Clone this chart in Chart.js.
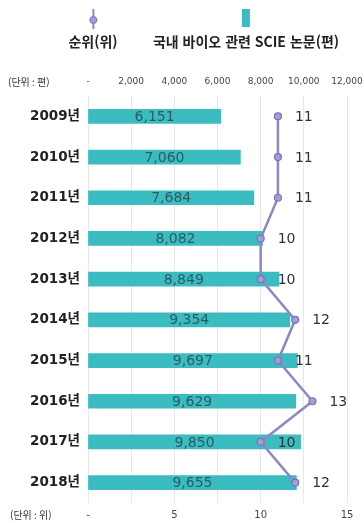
<!DOCTYPE html>
<html lang="ko">
<head>
  <meta charset="UTF-8" />
  <title>국내 바이오 관련 SCIE 논문 및 순위</title>
  <style>
    body { margin: 0; background: #fff; font-family: "Noto Sans CJK KR", sans-serif; }
    #wrap { position: relative; width: 364px; height: 523px; }
    #legend { position: absolute; top: 0; left: 0; width: 364px; height: 60px; }
    .item { position: absolute; top: 5px; text-align: center; font-weight: 700; font-size: 14px; color: #222; transform: translateX(-50%); white-space: nowrap; }
    .icon { position: relative; height: 22px; margin: 0 auto 4px; }
    .icon.line { width: 10px; }
    .icon.line::before { content: ""; position: absolute; left: 4px; top: 4px; width: 2px; height: 20px; background: #8e86c6; }
    .icon.line::after { content: ""; position: absolute; left: 1px; top: 11px; width: 6px; height: 6px; border-radius: 50%; background: #a59dd6; border: 1px solid #7a71b8; }
    .icon.bar { width: 8px; height: 18px; margin-top: 4px; background: #3bbcc0; }
    canvas { position: absolute; top: 0; left: 0; }
  </style>
  <script src="https://cdn.jsdelivr.net/npm/chart.js"></script>
</head>
<body>
  <div id="wrap">
    <canvas id="chart" width="364" height="523"></canvas>
    <div id="legend">
      <div class="item" style="left:93px"><div class="icon line"></div>순위(위)</div>
      <div class="item" style="left:246px"><div class="icon bar"></div>국내 바이오 관련 SCIE 논문(편)</div>
    </div>
  </div>

  <script>
    // data
    const years = ['2009년', '2010년', '2011년', '2012년', '2013년', '2014년', '2015년', '2016년', '2017년', '2018년'];
    const papers = [6151, 7060, 7684, 8082, 8849, 9354, 9697, 9629, 9850, 9655];
    const ranks = [11, 11, 11, 10, 10, 12, 11, 13, 10, 12];
    const paperTicks = [0, 2000, 4000, 6000, 8000, 10000, 12000];
    const rankTicks = [0, 5, 10, 15];

    const BAR = '#3bbcc0';
    const LINE = '#8e86c6';
    const NUM_FONT = '"DejaVu Sans", sans-serif';

    const fmt = v => v === 0 ? '-' : v.toLocaleString('en-US');

    // both value axes span the same plot width; keep their label overhang out of the layout
    const fitX = h => s => { s.height = h; s.paddingLeft = 0; s.paddingRight = 0; };

    // value labels on bars and next to rank points, plus unit captions
    const labelPlugin = {
      id: 'labels',
      afterDatasetsDraw(chart) {
        const ctx = chart.ctx;
        ctx.save();
        ctx.textBaseline = 'middle';

        const barMeta = chart.getDatasetMeta(1);
        ctx.font = '14px ' + NUM_FONT;
        ctx.fillStyle = '#2b5c62';
        ctx.textAlign = 'center';
        barMeta.data.forEach((el, i) => {
          ctx.fillText(fmt(papers[i]), (el.x + el.base) / 2, el.y + 1);
        });

        const lineMeta = chart.getDatasetMeta(0);
        ctx.font = '14px ' + NUM_FONT;
        ctx.fillStyle = '#333';
        ctx.textAlign = 'left';
        lineMeta.data.forEach((el, i) => {
          ctx.fillText(String(ranks[i]), el.x + 17, el.y + 1);
        });

        ctx.font = '10px "Noto Sans CJK KR", sans-serif';
        ctx.fillStyle = '#333';
        ctx.fillText('(단위 : 편)', 8, 82);
        ctx.fillText('(단위 : 위)', 10, 515);
        ctx.restore();
      }
    };

    new Chart(document.getElementById('chart'), {
      type: 'bar',
      data: {
        labels: years,
        datasets: [
          {
            type: 'line',
            label: '순위(위)',
            data: ranks,
            xAxisID: 'x2',
            borderColor: LINE,
            borderWidth: 2.5,
            pointRadius: 3.5,
            pointBackgroundColor: '#a59dd6',
            pointBorderColor: '#7a71b8',
            pointBorderWidth: 1.2,
            tension: 0,
            order: 0
          },
          {
            label: '국내 바이오 관련 SCIE 논문(편)',
            data: papers,
            xAxisID: 'x',
            backgroundColor: BAR,
            barThickness: 14,
            order: 1
          }
        ]
      },
      options: {
        indexAxis: 'y',
        responsive: false,
        animation: false,
        layout: { padding: { top: 66, right: 17, bottom: 0, left: 0 } },
        plugins: { legend: { display: false }, tooltip: { enabled: false } },
        scales: {
          x: {
            position: 'top',
            min: 0,
            max: 12000,
            afterBuildTicks: s => { s.ticks = paperTicks.map(v => ({ value: v })); },
            afterFit: fitX(30),
            grid: { color: '#e8e8e8', drawTicks: false },
            border: { display: false },
            ticks: { padding: 9, callback: v => fmt(v), color: '#444', font: { size: 9, family: NUM_FONT } }
          },
          x2: {
            position: 'bottom',
            min: 0,
            max: 15,
            afterBuildTicks: s => { s.ticks = rankTicks.map(v => ({ value: v })); },
            afterFit: fitX(20),
            grid: { display: false, drawTicks: false },
            border: { display: false },
            ticks: { padding: 6, callback: v => fmt(v), color: '#444', font: { size: 10, family: NUM_FONT } }
          },
          y: {
            afterFit: s => { s.width = 88; },
            grid: { display: false, drawTicks: false },
            border: { display: false },
            ticks: { padding: 8, color: '#222', font: { size: 13.5, weight: '600', family: NUM_FONT + ', "Noto Sans CJK KR"' } }
          }
        }
      },
      plugins: [labelPlugin]
    });
  </script>
</body>
</html>
